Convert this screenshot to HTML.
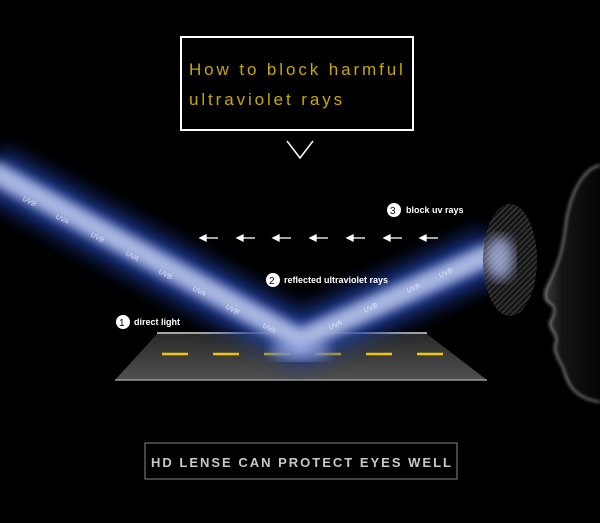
<!DOCTYPE html>
<html><head><style>
body{margin:0;background:#000;width:600px;height:523px;overflow:hidden}
svg{display:block}
text{font-family:"Liberation Sans",sans-serif}
</style></head><body>
<svg width="600" height="523" viewBox="0 0 600 523">
<defs>
<filter id="b1" x="-20%" y="-50%" width="140%" height="200%"><feGaussianBlur stdDeviation="10"/></filter>
<filter id="b2" x="-20%" y="-50%" width="140%" height="200%"><feGaussianBlur stdDeviation="5"/></filter>
<filter id="b3"><feGaussianBlur stdDeviation="6"/></filter>
<filter id="b4"><feGaussianBlur stdDeviation="1.5"/></filter>
<linearGradient id="road" x1="0" y1="0" x2="0" y2="1"><stop offset="0" stop-color="#2a2a2a"/><stop offset="1" stop-color="#505050"/></linearGradient>
<pattern id="hatch" width="4" height="4" patternUnits="userSpaceOnUse" patternTransform="rotate(45)"><rect width="4" height="4" fill="#1c1c1c"/><line x1="0" y1="0" x2="0" y2="4" stroke="#777" stroke-width="1.2"/></pattern>
<linearGradient id="face" x1="0" y1="0" x2="1" y2="0"><stop offset="0" stop-color="#3a3a3a"/><stop offset="0.3" stop-color="#151515"/><stop offset="1" stop-color="#050505"/></linearGradient>
</defs>
<polygon points="157,334 427,334 487,380 115,380" fill="url(#road)"/>
<line x1="157" y1="333" x2="427" y2="333" stroke="#ddd" stroke-width="1.5"/>
<line x1="115" y1="380" x2="487" y2="380" stroke="#999" stroke-width="1.5"/>
<g stroke="#f0c800" stroke-width="2.5">
<line x1="162" y1="354" x2="188" y2="354"/><line x1="213" y1="354" x2="239" y2="354"/><line x1="264" y1="354" x2="290" y2="354"/><line x1="315" y1="354" x2="341" y2="354"/><line x1="366" y1="354" x2="392" y2="354"/><line x1="417" y1="354" x2="443" y2="354"/>
</g>
<polyline points="-10,170 300,340 495,252" fill="none" stroke="#1e3a9a" stroke-width="50" filter="url(#b1)" opacity="0.9"/>
<polyline points="-10,170 300,340 495,252" fill="none" stroke="#b8c4ea" stroke-width="22" filter="url(#b2)" opacity="0.9"/>
<ellipse cx="300" cy="350" rx="30" ry="10" fill="#9fb0e8" filter="url(#b3)" opacity="0.7"/>
<g fill="#e8ecff" font-size="7" font-style="italic" opacity="0.85">
<text x="22" y="200" transform="rotate(28 22 200)">UVB</text><text x="55" y="218" transform="rotate(28 55 218)">UVA</text><text x="90" y="236" transform="rotate(28 90 236)">UVB</text><text x="125" y="255" transform="rotate(28 125 255)">UVA</text><text x="158" y="273" transform="rotate(28 158 273)">UVB</text><text x="192" y="290" transform="rotate(28 192 290)">UVA</text><text x="225" y="308" transform="rotate(28 225 308)">UVB</text><text x="262" y="327" transform="rotate(28 262 327)">UVA</text>
<text x="330" y="330" transform="rotate(-25 330 330)">UVA</text><text x="365" y="313" transform="rotate(-25 365 313)">UVB</text><text x="408" y="293" transform="rotate(-25 408 293)">UVA</text><text x="440" y="278" transform="rotate(-25 440 278)">UVB</text>
</g>
<ellipse cx="510" cy="260" rx="27" ry="56" fill="url(#hatch)" opacity="0.8"/>
<ellipse cx="500" cy="258" rx="14" ry="22" fill="#c0ccff" filter="url(#b3)" opacity="0.7"/>
<path d="M600,165 C580,170 568,200 565,230 C562,255 556,268 548,285 C542,296 546,302 552,305 C557,310 552,318 550,322 C549,330 558,334 556,342 C552,350 558,358 563,368 C568,385 574,398 600,402 Z" fill="url(#face)"/>
<path d="M600,165 C580,170 568,200 565,230 C562,255 556,268 548,285 C542,296 546,302 552,305 C557,310 552,318 550,322 C549,330 558,334 556,342 C552,350 558,358 563,368 C568,385 574,398 600,402" fill="none" stroke="#aaa" stroke-width="1.5" filter="url(#b4)"/>
<g stroke="#fff" stroke-width="1.3" fill="#fff">
<g id="ar"><line x1="202" y1="238" x2="218" y2="238"/><polygon points="200,238 206,235 206,241"/></g>
<use href="#ar" x="37"/><use href="#ar" x="73"/><use href="#ar" x="110"/><use href="#ar" x="147"/><use href="#ar" x="184"/><use href="#ar" x="220"/>
</g>
<g font-size="9" fill="#fff" font-weight="bold">
<circle cx="123" cy="322" r="7" fill="#fff"/><text x="119" y="326" fill="#000" font-size="10" font-weight="normal">1</text><text x="134" y="325">direct light</text>
<circle cx="273" cy="280" r="7" fill="#fff"/><text x="269" y="284" fill="#000" font-size="10" font-weight="normal">2</text><text x="284" y="283">reflected ultraviolet rays</text>
<circle cx="394" cy="210" r="7" fill="#fff"/><text x="390" y="214" fill="#000" font-size="10" font-weight="normal">3</text><text x="406" y="213">block uv rays</text>
</g>
<rect x="181" y="37" width="232" height="93" fill="none" stroke="#fff" stroke-width="2"/>
<text x="189" y="75" fill="#c8a800" font-size="17" letter-spacing="2.9">How to block harmful</text>
<text x="189" y="105" fill="#c8a800" font-size="17" letter-spacing="2.9">ultraviolet rays</text>
<polyline points="287,141 300,158 313,141" fill="none" stroke="#fff" stroke-width="1.5"/>
<rect x="145" y="443" width="312" height="36" fill="none" stroke="#888" stroke-width="1"/>
<text x="151" y="467" fill="#c8c8c8" font-size="13" font-weight="bold" letter-spacing="2">HD LENSE CAN PROTECT EYES WELL</text>
</svg>
</body></html>
